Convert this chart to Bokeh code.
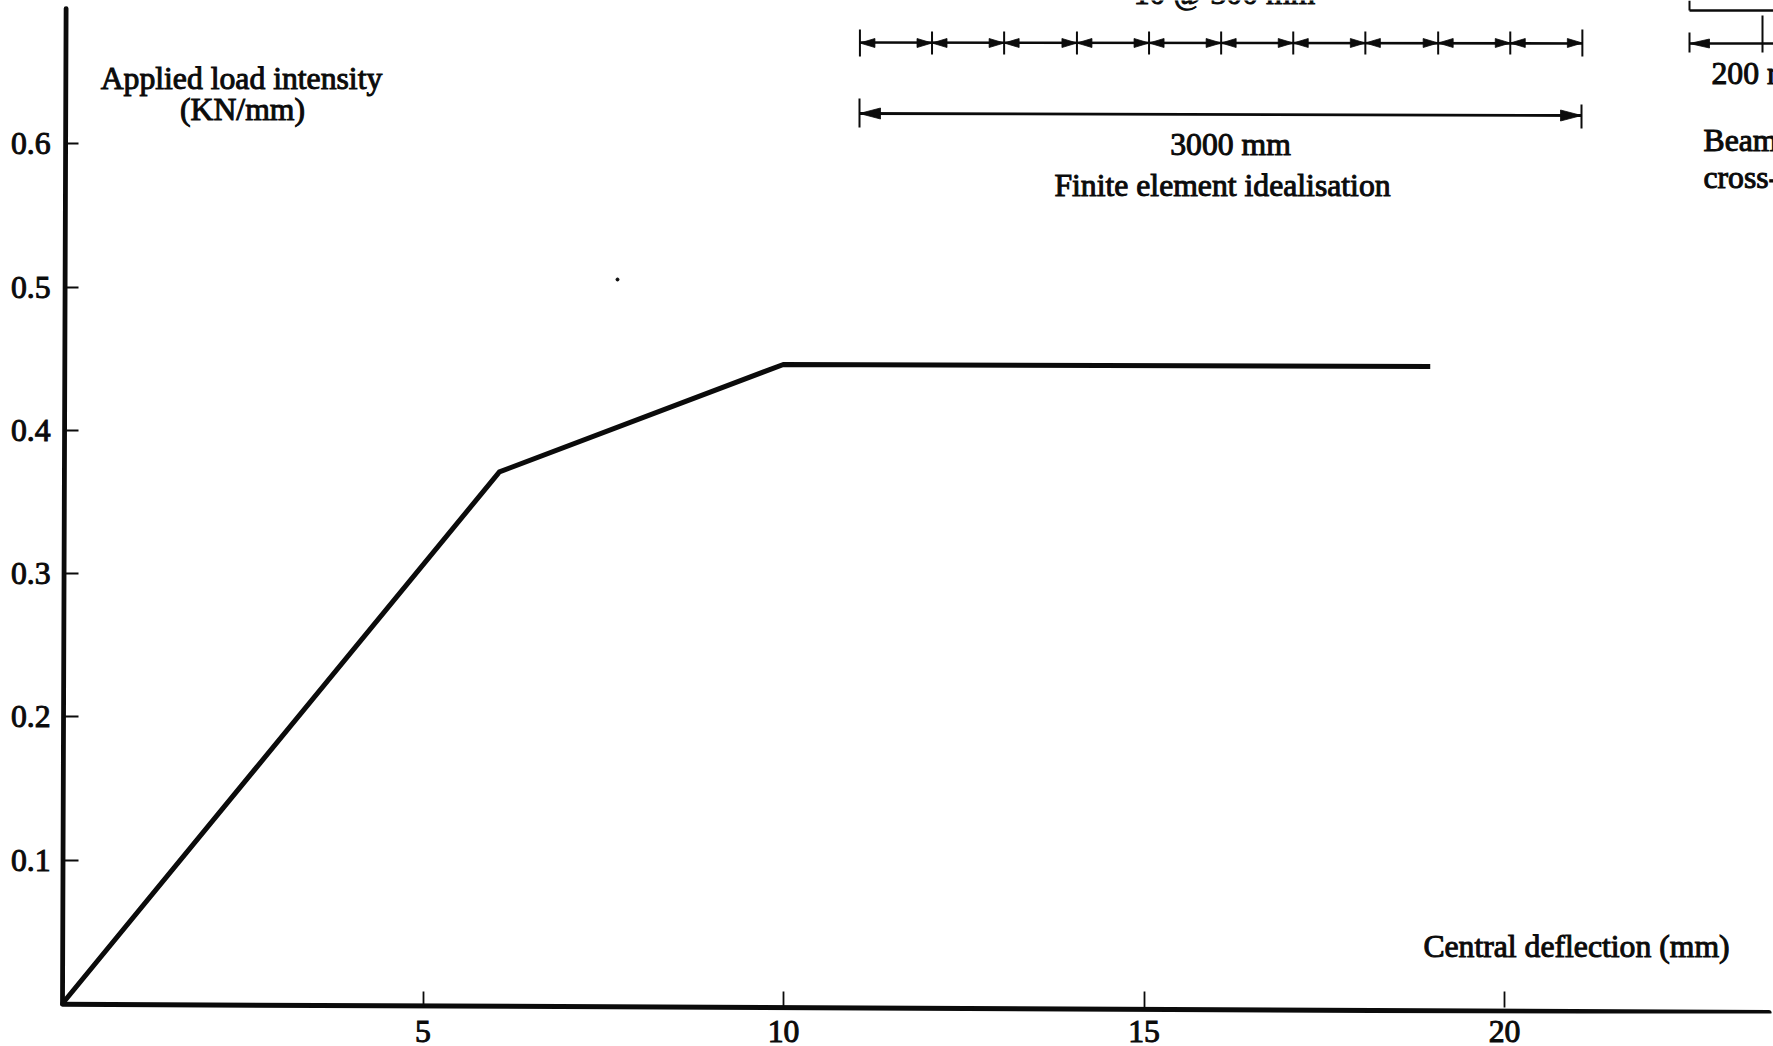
from bokeh.plotting import figure
from bokeh.models import Range1d, FixedTicker, LinearAxis
from bokeh.core.properties import value
from bokeh.embed import file_html
from bokeh.resources import INLINE

# Curve
deflection = [0.0, 6.06, 10.0, 18.97]
load = [0.0, 0.371, 0.446, 0.4445]
x_ticks = [5, 10, 15, 20]
y_ticks = [0.1, 0.2, 0.3, 0.4, 0.5, 0.6]

# Axis spines (slightly skewed in the scan)
x_spine_x = [0.0, 23.67]
x_spine_y = [-0.0005, -0.0062]
y_spine_x = [0.0, 0.05]
y_spine_y = [0.0, 0.6943]

# Inset dimension lines
element_ticks = [11.06, 12.06, 13.06, 14.07, 15.07, 16.07, 17.07, 18.07, 19.08, 20.08, 21.08]
INK = "#0b0b0b"
FONT = "Liberation Serif"
FS = "31.7px"
X0, PX = 62.0, 72.1   # reference pixel of x=0, pixels per x unit
Y0, PY = 1003.0, 1433.0

def dx(px):
    return (px - X0) / PX

def dy(py):
    return (Y0 - py) / PY

p = figure(width=1773, height=1046, output_backend="svg", toolbar_location=None,
           x_range=Range1d(dx(58), dx(1773)), y_range=Range1d(dy(1013), dy(0)),
           min_border_left=58, min_border_right=0, min_border_top=0, min_border_bottom=33,
           background_fill_color="white", border_fill_color="white")
p.outline_line_color = None
p.grid.visible = False

# Axes at the frame edge carry the labels only
for ax, ticks in ((p.xaxis[0], x_ticks), (p.yaxis[0], y_ticks)):
    ax.ticker = FixedTicker(ticks=ticks)
    ax.axis_line_color = None
    ax.major_tick_line_color = None
    ax.minor_tick_line_color = None
    ax.major_tick_in = 0
    ax.major_tick_out = 0
    ax.major_label_text_font = FONT
    ax.major_label_text_font_size = FS
    ax.major_label_text_color = INK
    ax.major_label_text_outline_color = INK
p.xaxis[0].major_label_standoff = 7
p.yaxis[0].major_label_standoff = 8
p.yaxis[0].major_label_orientation = "horizontal"

# Axes fixed inside the frame carry the tick marks
x_tick_axis = LinearAxis(ticker=FixedTicker(ticks=x_ticks), fixed_location=dy(1007), axis_line_color=None,
                         major_tick_line_color=INK, major_tick_line_width=1.8, minor_tick_line_color=None,
                         major_tick_in=16, major_tick_out=0,
                         major_label_overrides={t: "" for t in x_ticks})
y_tick_axis = LinearAxis(ticker=FixedTicker(ticks=y_ticks), fixed_location=dx(63.5), axis_line_color=None,
                         major_tick_line_color=INK, major_tick_line_width=2.2, minor_tick_line_color=None,
                         major_tick_in=14, major_tick_out=0,
                         major_label_overrides={t: "" for t in y_ticks})
p.add_layout(x_tick_axis, "below")
p.add_layout(y_tick_axis, "left")

p.line(x_spine_x, x_spine_y, line_width=5, line_color=INK, line_cap="round")
p.line(y_spine_x, y_spine_y, line_width=4.8, line_color=INK, line_cap="round")
p.line(deflection, load, line_width=5, line_color=INK, line_join="miter")

def hline(x1, y1, x2, y2, w=2):
    p.line([dx(x1), dx(x2)], [dy(y1), dy(y2)], line_color=INK, line_width=w)

def arrow(tip_px, y_px, direction, length, half):
    p.patch([dx(tip_px), dx(tip_px - direction * length), dx(tip_px - direction * length)],
            [dy(y_px), dy(y_px - half), dy(y_px + half)], fill_color=INK, line_color=INK, line_width=0.8)

# Element row
hline(X0 + element_ticks[0] * PX, 42, X0 + element_ticks[-1] * PX, 43, 2.6)
for i, t in enumerate(element_ticks):
    px = X0 + t * PX
    hline(px, 29 + (0 < i < 10) * 2, px, 56 - (0 < i < 10) * 2, 2)
    if i > 0:
        arrow(px, 42.5, 1, 15, 4.5)
    if i < len(element_ticks) - 1:
        arrow(px, 42.5, -1, 15, 4.5)

# Overall dimension
hline(859, 113, 1581, 115, 2.8)
hline(859, 98, 859, 127)
hline(1581, 104, 1581, 128)
arrow(859, 113, -1, 21, 5.5)
arrow(1581, 115, 1, 21, 5.5)

# Beam cross-section fragment
hline(1689, 0, 1689, 10)
hline(1689, 10, 1773, 10, 2.6)
hline(1762, 15, 1762, 52)
hline(1689, 32, 1689, 52)
hline(1689, 43, 1773, 43, 2.6)
arrow(1689, 43, -1, 20, 4.5)

def label(txt, x_px, y_px, align="center", baseline="middle"):
    p.text([dx(x_px)], [dy(y_px)], text=[txt], text_font=value(FONT), text_font_size=FS,
           text_color=INK, text_outline_color=INK, text_align=align, text_baseline=baseline)

label("Applied load intensity", 241, 78)
label("(KN/mm)", 242, 109)
label("Central deflection (mm)", 1576, 946)
label("10 @ 300 mm", 1224, -7, baseline="alphabetic")
label("3000 mm", 1230, 144)
label("Finite element idealisation", 1222, 185)
label("200 mm", 1711, 73, "left")
label("Beam", 1703, 140, "left")
label("cross-", 1703, 177, "left")

# Speck in the scan
p.scatter([dx(617)], [dy(279)], size=3, color=INK)

open("out.html", "w").write(file_html(p, INLINE))
